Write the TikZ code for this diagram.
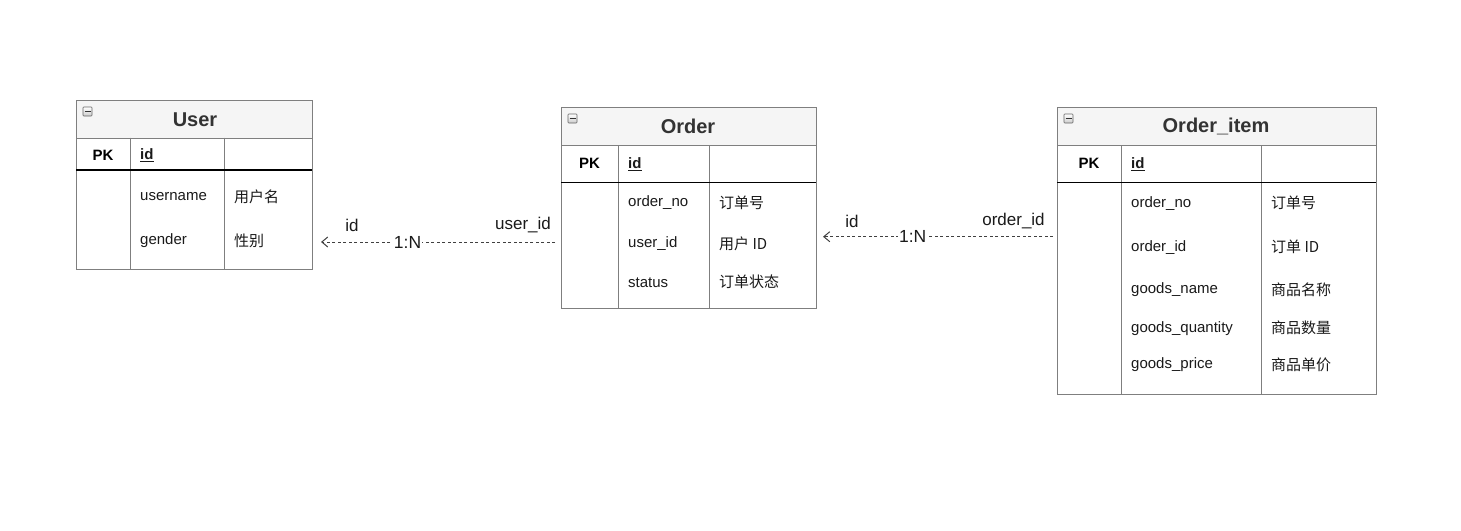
\documentclass[tikz,border=0pt]{standalone}
\usepackage{fontspec}
\setmainfont{Liberation Sans}
\newfontfamily\cjk{Noto Sans CJK SC}
\usetikzlibrary{arrows.meta,calc}
\definecolor{bordergray}{HTML}{7F7F7F}
\definecolor{titlefill}{HTML}{F5F5F5}
\definecolor{titletext}{HTML}{333333}
\definecolor{fieldtext}{HTML}{1A1A1A}
\definecolor{conncol}{HTML}{404040}
\tikzset{
  tbl/.style={draw=bordergray, line width=1pt, fill=white, anchor=north west, inner sep=0pt},
  tband/.style={draw=bordergray, line width=1pt, fill=titlefill, anchor=north west, inner sep=0pt},
  grid/.style={draw=bordergray, line width=1pt},
  hline/.style={draw=black, line width=1.4pt},
  ttl/.style={font=\fontsize{20}{24}\selectfont\bfseries, text=titletext, inner sep=0pt},
  pk/.style={font=\fontsize{15}{18}\selectfont\bfseries, text=black, inner sep=0pt},
  fld/.style={font=\fontsize{15}{18}\selectfont, text=fieldtext, anchor=west, inner sep=0pt},
  cmt/.style={font=\fontsize{15}{18}\selectfont\cjk, text=fieldtext, anchor=west, inner sep=0pt},
  icon/.style={draw=gray!80!black, line width=0.6pt, top color=white, bottom color=gray!40, minimum size=9pt, inner sep=0pt, rounded corners=0.8pt},
  conn/.style={draw=conncol, line width=1pt, dash pattern=on 3pt off 2.5pt, -{Straight Barb[length=6pt,width=10pt,line width=1pt]}},
  lab/.style={font=\fontsize{17}{20}\selectfont, text=fieldtext, inner sep=1pt},
  mid/.style={font=\fontsize{17.5}{20}\selectfont, text=fieldtext, fill=white, inner sep=1pt},
}
\newcommand{\tblicon}[2]{\node[icon] (#1) at (#2) {}; \draw[line width=1.2pt, black!80] ($(#1.center)+(-3,0)$) -- ($(#1.center)+(3,0)$);}
\begin{document}
\begin{tikzpicture}[x=1pt,y=-1pt]
\useasboundingbox[fill=white] (0,0) rectangle (1461,530);

% ---------- User ----------
\node[tbl, minimum width=236, minimum height=169] (user) at (76,100) {};
\node[tband, minimum width=236, minimum height=37.5] (userband) at (76,100) {};
\tblicon{usericon}{87.5,111.5}
\node[ttl] (usertitle) at (195,119.5) {User};
\draw[grid] (130.5,137.5) -- (130.5,269);
\draw[grid] (224.5,137.5) -- (224.5,269);
\draw[hline] (76,170) -- (312,170);
\node[pk] (userpk) at (103,155.5) {PK};
\node[fld, font=\fontsize{15}{18}\selectfont\bfseries] (userid) at (140,155.5) {\underline{id}};
\node[fld] (userf1) at (140,197) {username};
\node[cmt] (userc1) at (234,196.5) {用户名};
\node[fld] (userf2) at (140,241) {gender};
\node[cmt] (userc2) at (234,240.5) {性别};

% ---------- Order ----------
\node[tbl, minimum width=254.5, minimum height=201] (ord) at (561,107.3) {};
\node[tband, minimum width=254.5, minimum height=37.7] (ordband) at (561,107.3) {};
\tblicon{ordicon}{572.5,118.5}
\node[ttl] (ordtitle) at (688,126.5) {Order};
\draw[grid] (618.3,145) -- (618.3,308.3);
\draw[grid] (709.3,145) -- (709.3,308.3);
\draw[hline] (561,182.3) -- (815.5,182.3);
\node[pk] (ordpk) at (589.5,163.8) {PK};
\node[fld, font=\fontsize{15}{18}\selectfont\bfseries] (ordid) at (628,163.8) {\underline{id}};
\node[fld] (ordf1) at (628,203) {order\_no};
\node[cmt] (ordc1) at (719,202.5) {订单号};
\node[fld] (ordf2) at (628,244) {user\_id};
\node[cmt] (ordc2) at (719,243.5) {用户 ID};
\node[fld] (ordf3) at (628,282.5) {status};
\node[cmt] (ordc3) at (719,282) {订单状态};

% ---------- Order_item ----------
\node[tbl, minimum width=318.7, minimum height=287] (item) at (1057.3,107.3) {};
\node[tband, minimum width=318.7, minimum height=37.7] (itemband) at (1057.3,107.3) {};
\tblicon{itemicon}{1068.5,118.5}
\node[ttl] (itemtitle) at (1216,126.5) {Order\_item};
\draw[grid] (1121,145) -- (1121,394.3);
\draw[grid] (1261,145) -- (1261,394.3);
\draw[hline] (1057.3,182.3) -- (1376,182.3);
\node[pk] (itempk) at (1089,163.8) {PK};
\node[fld, font=\fontsize{15}{18}\selectfont\bfseries] (itemid) at (1131,163.8) {\underline{id}};
\node[fld] (itemf1) at (1131,203.5) {order\_no};
\node[cmt] (itemc1) at (1271,203) {订单号};
\node[fld] (itemf2) at (1131,247.5) {order\_id};
\node[cmt] (itemc2) at (1271,247) {订单 ID};
\node[fld] (itemf3) at (1131,290) {goods\_name};
\node[cmt] (itemc3) at (1271,289.5) {商品名称};
\node[fld] (itemf4) at (1131,328.5) {goods\_quantity};
\node[cmt] (itemc4) at (1271,328) {商品数量};
\node[fld] (itemf5) at (1131,365) {goods\_price};
\node[cmt] (itemc5) at (1271,364.5) {商品单价};

% ---------- Connectors ----------
\coordinate (e1s) at ($(ord.north west)+(-6,134.7)$);
\coordinate (e1t) at ($(user.north east)+(8,142)$);
\draw[conn] (e1s) -- node[mid, pos=0.63] (e1n) {1:N} (e1t);
\node[lab] (e1a) at (352,225.5) {id};
\node[lab] (e1b) at (523,225.5) {user\_id};

\coordinate (e2s) at ($(item.north west)+(-4.3,129.4)$);
\coordinate (e2t) at ($(ord.north east)+(6.5,129.4)$);
\draw[conn] (e2s) -- node[mid, pos=0.61] (e2n) {1:N} (e2t);
\node[lab] (e2a) at (852,221) {id};
\node[lab] (e2b) at (1013.5,221) {order\_id};
\end{tikzpicture}
\end{document}
